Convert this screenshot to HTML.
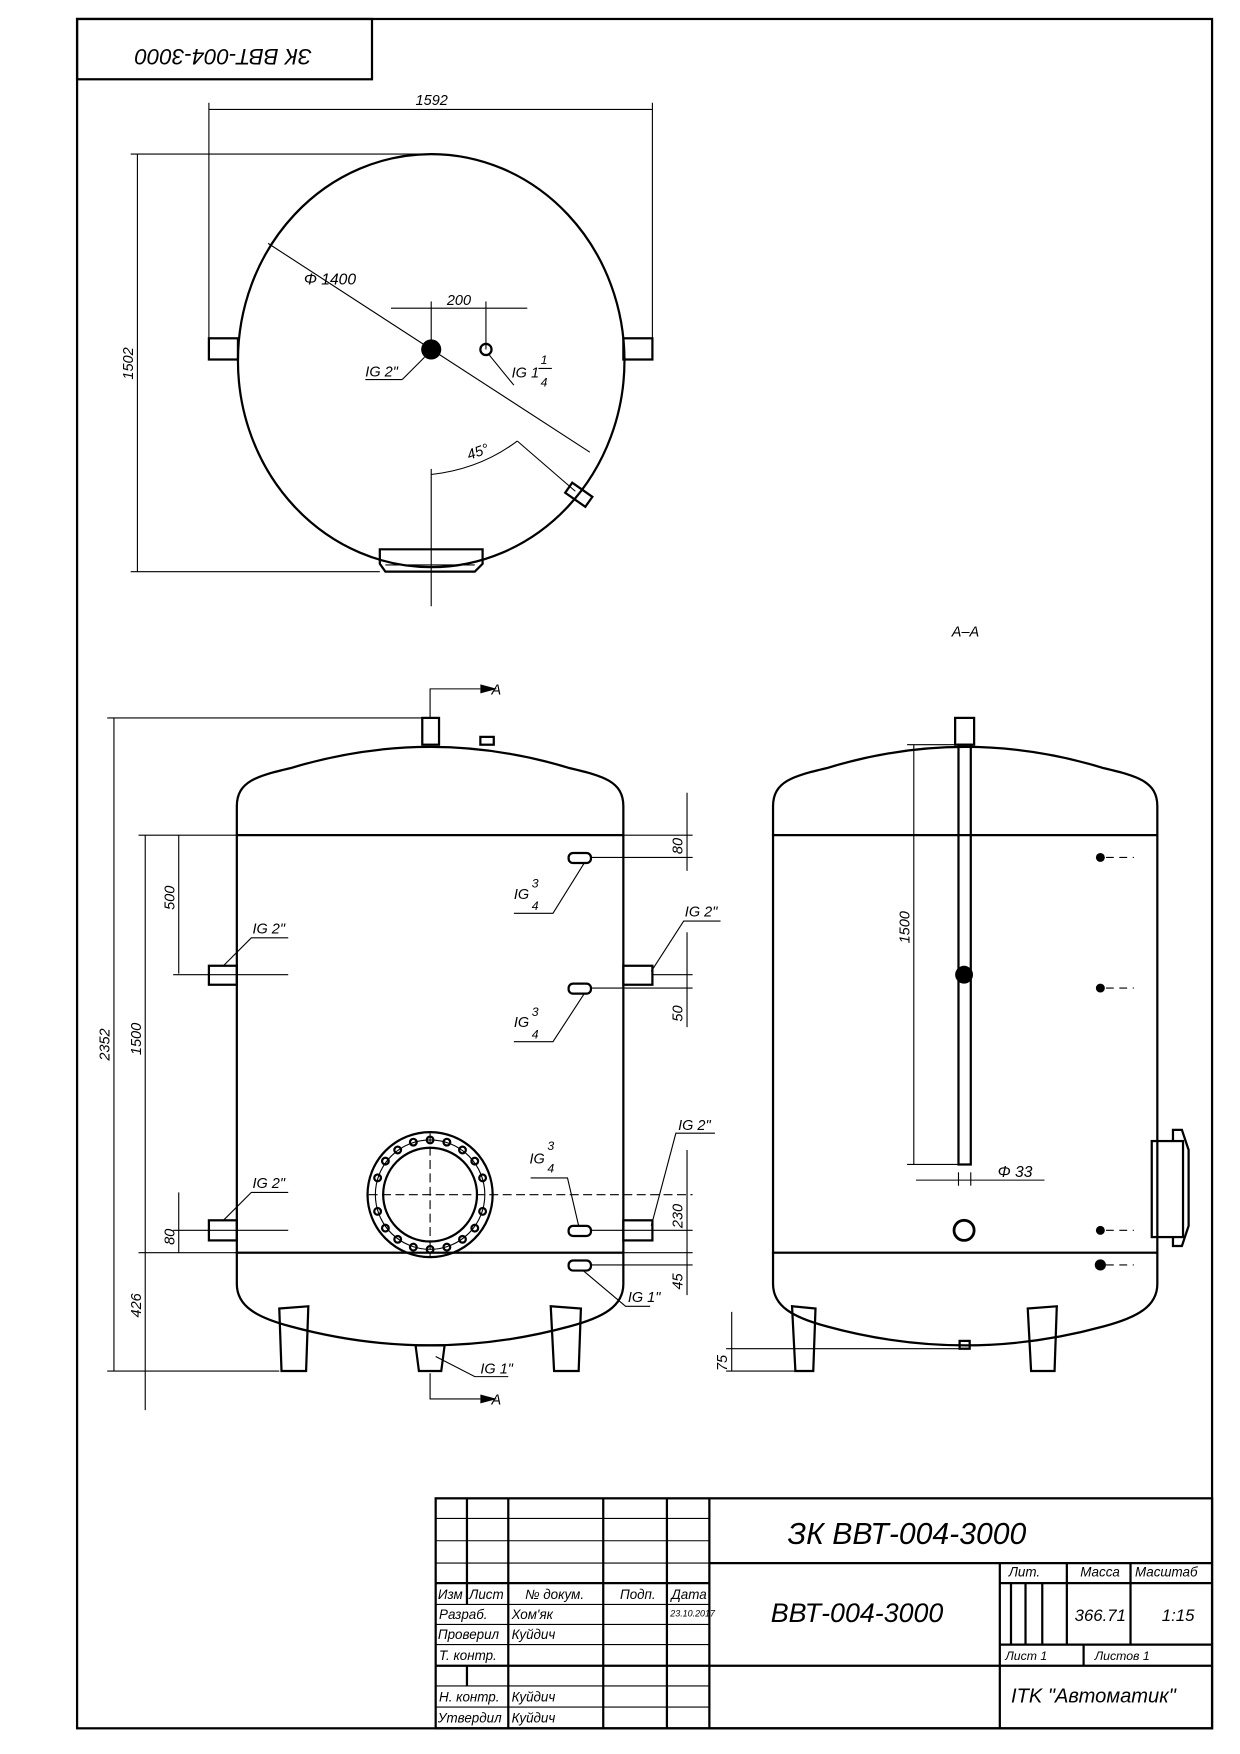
<!DOCTYPE html>
<html><head><meta charset="utf-8"><style>
html,body{margin:0;padding:0;background:#fff}
svg{display:block}
text{font-family:"Liberation Sans","DejaVu Sans",sans-serif;font-style:italic;fill:#000}
</style></head><body>
<svg width="1240" height="1754" viewBox="0 0 1110 1571" preserveAspectRatio="none" xmlns="http://www.w3.org/2000/svg">
<g fill="none" stroke="#000" stroke-width="1">
<rect x="69" y="17" width="1016" height="1531" stroke-width="2"/>
<rect x="69" y="17" width="264" height="54" stroke-width="2"/>

<ellipse cx="386" cy="323" rx="173" ry="185" stroke-width="2"/>
<rect x="187" y="303" width="26" height="19" stroke-width="2"/>
<rect x="558" y="303" width="26" height="19" stroke-width="2"/>
<line x1="187" y1="98" x2="584" y2="98"/>
<line x1="187" y1="92" x2="187" y2="303"/>
<line x1="584" y1="92" x2="584" y2="303"/>
<line x1="123" y1="138" x2="123" y2="512"/>
<line x1="117" y1="138" x2="386" y2="138"/>
<line x1="117" y1="512" x2="340" y2="512"/>
<path d="M340,492 H432 V505 L425,512 H345 L340,505 Z" stroke-width="2"/>
<line x1="345" y1="506" x2="425" y2="506"/>
<line x1="386" y1="420" x2="386" y2="543"/>
<line x1="240" y1="218" x2="528" y2="405"/>
<line x1="350" y1="276" x2="472" y2="276"/>
<line x1="386" y1="270" x2="386" y2="313"/>
<line x1="435" y1="270" x2="435" y2="313"/>
<line x1="380" y1="320" x2="360" y2="340"/><line x1="360" y1="340" x2="327" y2="340"/>
<line x1="438" y1="318" x2="460" y2="345"/>
<path d="M386,425 Q430,420 463,395"/>
<line x1="463" y1="395" x2="515" y2="440"/>
<g transform="rotate(35 517 443)"><rect x="507" y="437" width="22" height="11" stroke-width="2"/></g>

<path d="M212,748 V722 C212,700 230,695 260,688 Q385,650 510,688 C540,695 558,700 558,722 V748" stroke-width="2"/>
<path d="M212,1122 V1150 C212,1170 230,1180 260,1188 Q385,1222 510,1188 C540,1180 558,1170 558,1150 V1122" stroke-width="2"/>
<rect x="212" y="748" width="346" height="374" stroke-width="2"/>
<rect x="378" y="643" width="15" height="24" stroke-width="2"/>
<rect x="430" y="660" width="12" height="7" stroke-width="2"/>
<polyline points="385,643 385,617 430,617"/>
<path d="M250,1172 L276,1170 L274,1228 H252 Z" stroke-width="2"/>
<path d="M493,1170 L520,1172 L518,1228 H496 Z" stroke-width="2"/>
<path d="M372,1205 H398 L395,1228 H375 Z" stroke-width="2"/>
<polyline points="385,1230 385,1253 430,1253"/>
<circle cx="385" cy="1070" r="56" stroke-width="2"/>
<circle cx="385" cy="1070" r="49"/>
<circle cx="385" cy="1070" r="42" stroke-width="2"/>
<line x1="330" y1="1070" x2="620" y2="1070" stroke-dasharray="8,4"/>
<line x1="385" y1="1015" x2="385" y2="1125" stroke-dasharray="8,4"/>
<rect x="187" y="865" width="25" height="17" stroke-width="2"/>
<rect x="187" y="1093" width="25" height="18" stroke-width="2"/>
<rect x="558" y="865" width="26" height="17" stroke-width="2"/>
<rect x="558" y="1093" width="26" height="18" stroke-width="2"/>
<g stroke-width="2">
<rect x="509" y="764" width="20" height="9" rx="4"/><rect x="509" y="881" width="20" height="9" rx="4"/>
<rect x="509" y="1098" width="20" height="9" rx="4"/><rect x="509" y="1129" width="20" height="9" rx="4"/>
</g>
<polyline points="523,773 495,818 460,818"/>
<polyline points="523,890 495,933 460,933"/>
<polyline points="518,1098 508,1055 475,1055"/>
<polyline points="522,1138 560,1170 582,1170"/>
<polyline points="200,865 225,840 258,840"/>
<polyline points="200,1093 225,1068 258,1068"/>
<polyline points="583,870 612,825 645,825"/>
<polyline points="583,1098 605,1015 640,1015"/>
<polyline points="390,1215 425,1233 455,1233"/>
<line x1="102" y1="643" x2="102" y2="1228"/>
<line x1="96" y1="643" x2="378" y2="643"/>
<line x1="96" y1="1228" x2="250" y2="1228"/>
<line x1="130" y1="748" x2="130" y2="1263"/>
<line x1="124" y1="748" x2="212" y2="748"/>
<line x1="124" y1="1122" x2="212" y2="1122"/>
<line x1="160" y1="748" x2="160" y2="872"/>
<line x1="155" y1="873" x2="258" y2="873"/>
<line x1="160" y1="1068" x2="160" y2="1122"/>
<line x1="155" y1="1102" x2="258" y2="1102"/>
<line x1="615" y1="710" x2="615" y2="780"/>
<line x1="615" y1="835" x2="615" y2="920"/>
<line x1="615" y1="1030" x2="615" y2="1160"/>
<line x1="558" y1="748" x2="620" y2="748"/>
<line x1="529" y1="768" x2="620" y2="768"/>
<line x1="584" y1="873" x2="620" y2="873"/>
<line x1="529" y1="885" x2="620" y2="885"/>
<line x1="529" y1="1102" x2="620" y2="1102"/>
<line x1="558" y1="1122" x2="620" y2="1122"/>
<line x1="529" y1="1133" x2="620" y2="1133"/>

<path d="M692,748 V722 C692,700 710,695 740,688 Q864,650 988,688 C1018,695 1036,700 1036,722 V748" stroke-width="2"/>
<path d="M692,1122 V1150 C692,1170 710,1180 740,1188 Q864,1222 988,1188 C1018,1180 1036,1170 1036,1150 V1122" stroke-width="2"/>
<rect x="692" y="748" width="344" height="374" stroke-width="2"/>
<rect x="855" y="643" width="17" height="24" stroke-width="2"/>
<rect x="858" y="667" width="11" height="376" stroke-width="2"/>
<circle cx="863" cy="1102" r="9" stroke-width="2.5"/>
<rect x="859" y="1201" width="9" height="7" stroke-width="2"/>
<path d="M709,1170 L730,1172 L728,1228 H712 Z" stroke-width="2"/>
<path d="M920,1172 L946,1170 L944,1228 H923 Z" stroke-width="2"/>
<rect x="1031" y="1022" width="28" height="86" stroke-width="2"/>
<path d="M1050,1022 V1012 H1058 L1064,1030 V1098 L1058,1116 H1050 V1108" stroke-width="2"/>
<g stroke-dasharray="7,5"><line x1="990" y1="768" x2="1015" y2="768"/><line x1="990" y1="885" x2="1015" y2="885"/><line x1="990" y1="1102" x2="1015" y2="1102"/><line x1="990" y1="1133" x2="1015" y2="1133"/></g>
<line x1="818" y1="667" x2="818" y2="1043"/>
<line x1="812" y1="667" x2="858" y2="667"/>
<line x1="812" y1="1043" x2="858" y2="1043"/>
<line x1="820" y1="1057" x2="935" y2="1057"/>
<line x1="858" y1="1050" x2="858" y2="1062"/><line x1="869" y1="1050" x2="869" y2="1062"/>
<line x1="655" y1="1175" x2="655" y2="1228"/>
<line x1="650" y1="1208" x2="860" y2="1208"/>
<line x1="650" y1="1228" x2="712" y2="1228"/>

<g stroke-width="2">
<rect x="390" y="1342" width="695" height="206"/>
<line x1="418" y1="1342" x2="418" y2="1437"/>
<line x1="418" y1="1492" x2="418" y2="1510"/>
<line x1="455" y1="1342" x2="455" y2="1548"/>
<line x1="540" y1="1342" x2="540" y2="1548"/>
<line x1="597" y1="1342" x2="597" y2="1548"/>
<line x1="635" y1="1342" x2="635" y2="1548"/>
<line x1="390" y1="1418" x2="635" y2="1418"/>
<line x1="390" y1="1492" x2="1085" y2="1492"/>
<line x1="635" y1="1400" x2="1085" y2="1400"/>
<line x1="895" y1="1400" x2="895" y2="1548"/>
<line x1="895" y1="1473" x2="1085" y2="1473"/>
<line x1="955" y1="1400" x2="955" y2="1473"/>
<line x1="1012" y1="1400" x2="1012" y2="1473"/>
<line x1="895" y1="1418" x2="1085" y2="1418"/>
<line x1="905" y1="1418" x2="905" y2="1473"/>
<line x1="918" y1="1418" x2="918" y2="1473"/>
<line x1="933" y1="1418" x2="933" y2="1473"/>
<line x1="970" y1="1473" x2="970" y2="1492"/>
</g>
<g>
<line x1="390" y1="1360" x2="635" y2="1360"/><line x1="390" y1="1380" x2="635" y2="1380"/>
<line x1="390" y1="1400" x2="635" y2="1400"/><line x1="390" y1="1437" x2="635" y2="1437"/>
<line x1="390" y1="1455" x2="635" y2="1455"/><line x1="390" y1="1473" x2="635" y2="1473"/>
<line x1="390" y1="1510" x2="635" y2="1510"/><line x1="390" y1="1529" x2="635" y2="1529"/>
</g>
</g>
<g fill="#000">
<circle cx="386" cy="313" r="9"/>
<circle cx="435" cy="313" r="5" fill="none" stroke="#000" stroke-width="2"/>
<circle cx="863" cy="873" r="8"/>
<circle cx="985" cy="768" r="4"/><circle cx="985" cy="885" r="4"/><circle cx="985" cy="1102" r="4"/><circle cx="985" cy="1133" r="5"/>
<polygon points="430,613 445,617 430,621"/><polygon points="430,1249 445,1253 430,1257"/>
</g>
<g fill="none" stroke="#000" stroke-width="2">
<circle cx="356" cy="1030" r="3"/><circle cx="385" cy="1021" r="3"/><circle cx="414" cy="1030" r="3"/>
<circle cx="432" cy="1055" r="3"/><circle cx="432" cy="1085" r="3"/><circle cx="414" cy="1110" r="3"/>
<circle cx="385" cy="1119" r="3"/><circle cx="356" cy="1110" r="3"/><circle cx="338" cy="1085" r="3"/>
<circle cx="338" cy="1055" r="3"/><circle cx="370" cy="1023" r="3"/><circle cx="400" cy="1023" r="3"/>
<circle cx="370" cy="1117" r="3"/><circle cx="400" cy="1117" r="3"/><circle cx="345" cy="1040" r="3"/><circle cx="425" cy="1040" r="3"/><circle cx="345" cy="1100" r="3"/><circle cx="425" cy="1100" r="3"/>
</g>

<g font-size="13">
<text x="201" y="44" font-size="20" transform="rotate(180 240 44)">ЗК ВВТ-004-3000</text>
<text x="372" y="94">1592</text>
<text transform="translate(119,340) rotate(-90)">1502</text>
<text x="272" y="255" font-size="14">Φ 1400</text>
<text x="400" y="273">200</text>
<text x="327" y="337">IG 2"</text>
<text x="458" y="338">IG 1</text>
<text x="484" y="326" font-size="11">1</text><line x1="482" y1="330" x2="494" y2="330" stroke="#000"/><text x="484" y="346" font-size="11">4</text>
<text x="420" y="412" transform="rotate(-20 420 412)">45°</text>
<text x="440" y="622">A</text><text x="440" y="1258">A</text>
<text transform="translate(98,950) rotate(-90)">2352</text>
<text transform="translate(126,945) rotate(-90)">1500</text>
<text transform="translate(156,815) rotate(-90)">500</text>
<text transform="translate(156,1115) rotate(-90)">80</text>
<text transform="translate(126,1180) rotate(-90)">426</text>
<text transform="translate(611,765) rotate(-90)">80</text>
<text transform="translate(611,915) rotate(-90)">50</text>
<text transform="translate(611,1100) rotate(-90)">230</text>
<text transform="translate(611,1155) rotate(-90)">45</text>
<text transform="translate(651,1228) rotate(-90)">75</text>
<text transform="translate(814,845) rotate(-90)">1500</text>
<text x="226" y="836">IG 2"</text><text x="226" y="1064">IG 2"</text>
<text x="613" y="821">IG 2"</text><text x="607" y="1012">IG 2"</text>
<text x="562" y="1166">IG 1"</text><text x="430" y="1230">IG 1"</text>
<text x="460" y="805">IG</text><text x="476" y="795" font-size="11">3</text><text x="476" y="815" font-size="11">4</text>
<text x="460" y="920">IG</text><text x="476" y="910" font-size="11">3</text><text x="476" y="930" font-size="11">4</text>
<text x="474" y="1042">IG</text><text x="490" y="1030" font-size="11">3</text><text x="490" y="1050" font-size="11">4</text>
<text x="893" y="1054" font-size="14">Φ 33</text>
<text x="852" y="570">A–A</text>
<text x="705" y="1383" font-size="27">ЗК ВВТ-004-3000</text>
<text x="690" y="1453" font-size="24">ВВТ-004-3000</text>
<text x="903" y="1412" font-size="12">Лит.</text>
<text x="967" y="1412" font-size="12">Масса</text>
<text x="1016" y="1412" font-size="12">Масштаб</text>
<text x="962" y="1452" font-size="15">366.71</text>
<text x="1040" y="1452" font-size="15">1:15</text>
<text x="900" y="1487" font-size="11">Лист 1</text>
<text x="980" y="1487" font-size="11">Листов 1</text>
<text x="905" y="1525" font-size="18">ITK "Автоматик"</text>
<text x="392" y="1432" font-size="12">Изм</text><text x="420" y="1432" font-size="12">Лист</text>
<text x="470" y="1432" font-size="12">№ докум.</text><text x="555" y="1432" font-size="12">Подп.</text><text x="601" y="1432" font-size="12">Дата</text>
<text x="393" y="1450" font-size="12">Разраб.</text><text x="458" y="1450" font-size="12">Хом'як</text><text x="600" y="1448" font-size="8">23.10.2017</text>
<text x="392" y="1468" font-size="12">Проверил</text><text x="458" y="1468" font-size="12">Куйдич</text>
<text x="393" y="1487" font-size="12">Т. контр.</text>
<text x="393" y="1524" font-size="12">Н. контр.</text><text x="458" y="1524" font-size="12">Куйдич</text>
<text x="392" y="1543" font-size="12">Утвердил</text><text x="458" y="1543" font-size="12">Куйдич</text>
</g>
</svg>
</body></html>
